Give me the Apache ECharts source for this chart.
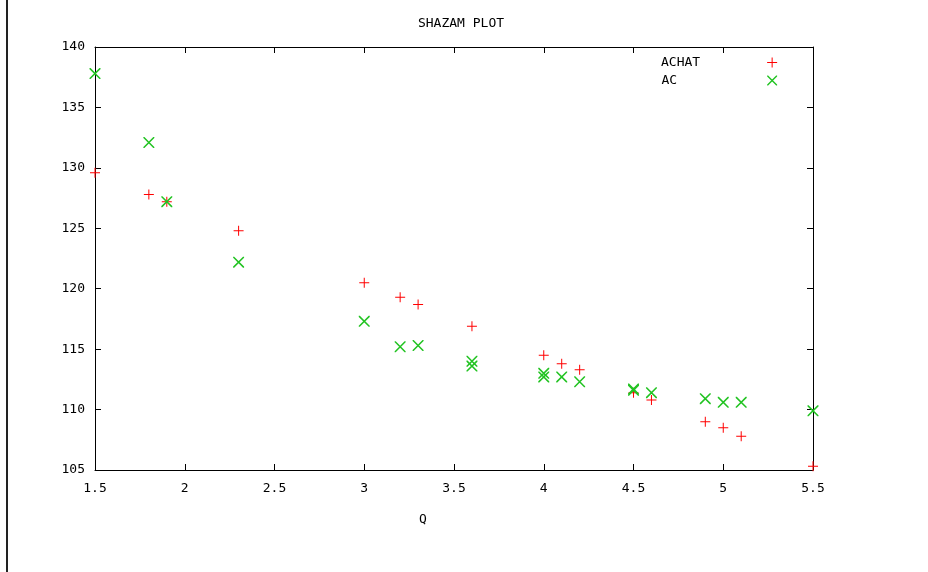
<!DOCTYPE html>
<html>
<head>
<meta charset="utf-8">
<script src="https://cdn.jsdelivr.net/npm/echarts@6/dist/echarts.min.js"></script>
<style>
  html, body { margin: 0; padding: 0; background: #fff; }
  #chart { width: 928px; height: 572px; }
</style>
</head>
<body>
<div id="chart"></div>
<script>
// values
var achatQ = [1.5, 1.8, 1.9, 2.3, 3.0, 3.2, 3.3, 3.6, 4.0, 4.1, 4.2, 4.5, 4.6, 4.9, 5.0, 5.1, 5.5];
var achatY = [129.6, 127.8, 127.2, 124.8, 120.5, 119.3, 118.7, 116.9, 114.5, 113.8, 113.3, 111.4, 110.8, 109.0, 108.5, 107.8, 105.3];

var acQ = [1.5, 1.8, 1.9, 2.3, 3.0, 3.2, 3.3, 3.6, 3.6, 4.0, 4.0, 4.1, 4.2, 4.5, 4.5, 4.6, 4.9, 5.0, 5.1, 5.5];
var acY = [137.8, 132.1, 127.2, 122.2, 117.3, 115.2, 115.3, 114.0, 113.6, 113.0, 112.7, 112.7, 112.3, 111.7, 111.6, 111.4, 110.9, 110.6, 110.6, 109.9];

var xTicks = { min: 1.5, max: 5.5, interval: 0.5 };
var yTicks = { min: 105, max: 140, interval: 5 };

var FONT = '"DejaVu Sans Mono", monospace';
var plus = 'path://M0,4.5H10V5.5H0Z M4.5,0H5.5V10H4.5Z';
var cross = 'path://M0,0L1,0L10,9L10,10L9,10L0,1Z M10,0L10,1L1,10L0,10L0,9L9,0Z';

function pairs(xs, ys) {
  return xs.map(function (x, i) { return [x, ys[i]]; });
}

var myChart = echarts.init(document.getElementById('chart'));

var axisBase = {
  type: 'value',
  axisLine: { show: true, lineStyle: { color: '#000', width: 1 } },
  axisTick: { show: true, inside: true, length: 6, lineStyle: { color: '#000' } },
  splitLine: { show: false }
};

var legendText = { fontFamily: FONT, fontSize: 13, color: '#000', align: 'left' };

var option = {
  backgroundColor: '#fff',
  animation: false,
  title: [
    {
      text: 'SHAZAM PLOT',
      left: 456, top: 12, textAlign: 'center',
      textStyle: { fontFamily: FONT, fontSize: 13, fontWeight: 'normal', color: '#000' }
    },
    {
      text: 'Q',
      left: 418, top: 508, textAlign: 'center',
      textStyle: { fontFamily: FONT, fontSize: 13, fontWeight: 'normal', color: '#000' }
    }
  ],
  legend: {
    orient: 'vertical',
    left: 656, top: 51,
    align: 'right',
    itemWidth: 10, itemHeight: 10,
    itemGap: 5,
    formatter: function (name) {
      return name === 'AC' ? '{b|' + name + '}' : '{a|' + name + '}';
    },
    textStyle: {
      fontFamily: FONT, fontSize: 13, color: '#000',
      rich: {
        a: Object.assign({ padding: [0, 62, 0, 0] }, legendText),
        b: Object.assign({ padding: [0, 85, 0, 0] }, legendText)
      }
    },
    data: ['ACHAT', 'AC']
  },
  grid: { left: 95, right: 115, top: 47, bottom: 102 },
  xAxis: [
    Object.assign({}, axisBase, {
      position: 'bottom',
      min: xTicks.min, max: xTicks.max, interval: xTicks.interval,
      axisLabel: { margin: 12, fontFamily: FONT, fontSize: 13, color: '#000' }
    }),
    Object.assign({}, axisBase, {
      position: 'top',
      min: xTicks.min, max: xTicks.max, interval: xTicks.interval,
      axisLabel: { show: false }
    })
  ],
  yAxis: [
    Object.assign({}, axisBase, {
      position: 'left',
      min: yTicks.min, max: yTicks.max, interval: yTicks.interval,
      axisLabel: { margin: 10, fontFamily: FONT, fontSize: 13, color: '#000' }
    }),
    Object.assign({}, axisBase, {
      position: 'right',
      min: yTicks.min, max: yTicks.max, interval: yTicks.interval,
      axisLabel: { show: false }
    })
  ],
  graphic: [
    {
      type: 'line',
      shape: { x1: 7, y1: 0, x2: 7, y2: 572 },
      style: { stroke: '#222', lineWidth: 2 }
    }
  ],
  series: [
    {
      name: 'ACHAT',
      type: 'scatter',
      symbol: plus,
      symbolSize: 10,
      itemStyle: { color: '#ff0000', opacity: 1 },
      data: pairs(achatQ, achatY)
    },
    {
      name: 'AC',
      type: 'scatter',
      symbol: cross,
      symbolSize: 11,
      itemStyle: { color: '#22c322', opacity: 1 },
      data: pairs(acQ, acY)
    }
  ]
};

myChart.setOption(option);
</script>
</body>
</html>
